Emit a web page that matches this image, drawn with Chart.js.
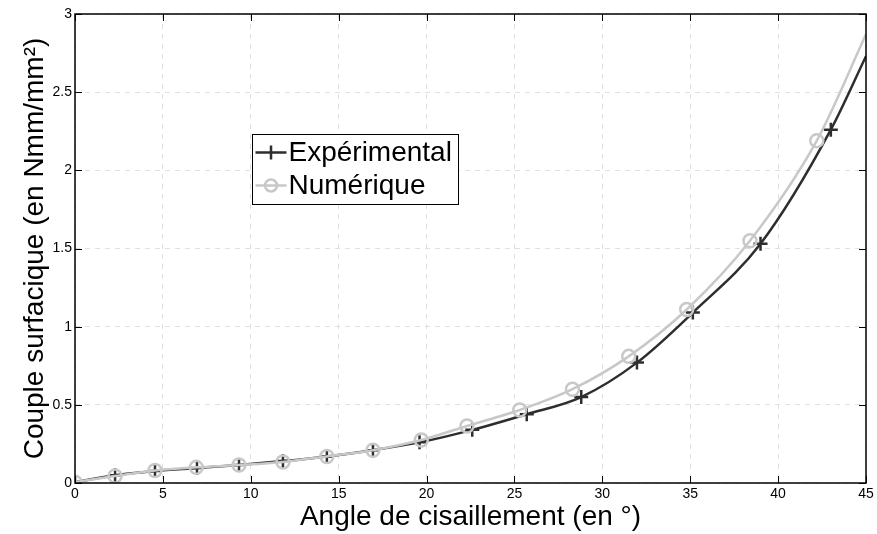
<!DOCTYPE html>
<html>
<head>
<meta charset="utf-8">
<script src="https://cdn.jsdelivr.net/npm/chart.js@4.4.1/dist/chart.umd.min.js"></script>
<style>
  html, body { margin: 0; padding: 0; background: #fff; }
  #wrap { width: 877px; height: 534px; }
</style>
</head>
<body>
<div id="wrap"><canvas id="couple-chart" width="877" height="534"></canvas></div>
<script>
// measured points (angle in degrees, couple in Nmm/mm2)
var expAngle = [0, 2.28, 4.55, 6.94, 9.33, 11.83, 14.33, 16.95, 19.6, 22.6, 25.7, 28.8, 31.97, 35.15, 39.0, 43.0];
var expCouple = [0.005, 0.05, 0.077, 0.096, 0.115, 0.14, 0.17, 0.21, 0.26, 0.34, 0.44, 0.55, 0.77, 1.09, 1.53, 2.26];
var expCurveAngle = [0, 2.28, 4.55, 6.94, 9.33, 11.83, 14.33, 16.95, 19.6, 22.6, 25.7, 28.8, 31.97, 35.15, 39.0, 43.0, 45];
var expCurveCouple = [0.005, 0.05, 0.077, 0.096, 0.115, 0.14, 0.17, 0.21, 0.26, 0.34, 0.44, 0.55, 0.77, 1.09, 1.53, 2.26, 2.73];

var numAngle = [0, 2.28, 4.55, 6.9, 9.33, 11.83, 14.33, 16.95, 19.7, 22.3, 25.3, 28.3, 31.5, 34.8, 38.4, 42.2];
var numCouple = [0.005, 0.045, 0.08, 0.1, 0.115, 0.135, 0.17, 0.21, 0.275, 0.365, 0.467, 0.6, 0.81, 1.11, 1.55, 2.19];
var numCurveAngle = [0, 2.28, 4.55, 6.9, 9.33, 11.83, 14.33, 16.95, 19.7, 22.3, 25.3, 28.3, 31.5, 34.8, 38.4, 42.2, 45];
var numCurveCouple = [0.005, 0.045, 0.08, 0.1, 0.115, 0.135, 0.17, 0.21, 0.275, 0.365, 0.467, 0.6, 0.81, 1.11, 1.55, 2.19, 2.87];

var xTicks = [0, 5, 10, 15, 20, 25, 30, 35, 40, 45];
var yTicks = [0, 0.5, 1, 1.5, 2, 2.5, 3];

var seriesNames = ['Expérimental', 'Numérique'];
var expColor = '#2e2e2e';
var numColor = '#c8c8c8';
var fontFamily = '"Liberation Sans", Arial, sans-serif';

function toPoints(xs, ys) {
    return xs.map(function (x, i) { return { x: x, y: ys[i] }; });
}

// box, inner ticks and legend in the style of a matlab figure
var framePlugin = {
    id: 'frame',
    afterDraw: function (chart) {
        var c = chart.ctx;
        var a = chart.chartArea;
        var xs = chart.scales.x, ys = chart.scales.y;
        c.save();
        c.strokeStyle = '#000';
        c.lineWidth = 1.5;
        c.strokeRect(a.left, a.top, a.right - a.left, a.bottom - a.top);
        c.lineWidth = 1;
        var len = 7;
        xTicks.forEach(function (v) {
            var px = Math.round(xs.getPixelForValue(v)) + 0.5;
            c.beginPath();
            c.moveTo(px, a.bottom); c.lineTo(px, a.bottom - len);
            c.moveTo(px, a.top); c.lineTo(px, a.top + len);
            c.stroke();
        });
        yTicks.forEach(function (v) {
            var py = Math.round(ys.getPixelForValue(v)) + 0.5;
            c.beginPath();
            c.moveTo(a.left, py); c.lineTo(a.left + len, py);
            c.moveTo(a.right, py); c.lineTo(a.right - len, py);
            c.stroke();
        });

        // legend
        var bx = 252.5, by = 134.5, bw = 206, bh = 70;
        c.fillStyle = '#fff';
        c.fillRect(bx, by, bw, bh);
        c.strokeStyle = '#000';
        c.lineWidth = 1;
        c.strokeRect(bx, by, bw, bh);
        c.font = '28px ' + fontFamily;
        c.textBaseline = 'middle';
        c.fillStyle = '#000';
        var rows = [by + 18, by + 51];
        // experimental: line with a plus
        c.strokeStyle = expColor;
        c.lineWidth = 2.5;
        c.beginPath();
        c.moveTo(bx + 3, rows[0]); c.lineTo(bx + 34, rows[0]);
        c.moveTo(bx + 18.5, rows[0] - 7); c.lineTo(bx + 18.5, rows[0] + 7);
        c.stroke();
        c.fillText(seriesNames[0], bx + 36, rows[0] + 1);
        // numeric: line with a circle
        c.strokeStyle = numColor;
        c.beginPath();
        c.moveTo(bx + 3, rows[1]); c.lineTo(bx + 34, rows[1]);
        c.stroke();
        c.beginPath();
        c.arc(bx + 18.5, rows[1], 6, 0, Math.PI * 2);
        c.stroke();
        c.fillText(seriesNames[1], bx + 36, rows[1] + 1);
        c.restore();
    }
};

var ctx = document.getElementById('couple-chart').getContext('2d');
var chart = new Chart(ctx, {
    type: 'scatter',
    data: {
        datasets: [{
            label: seriesNames[1],
            data: toPoints(numAngle, numCouple),
            showLine: false,
            pointStyle: 'circle',
            pointRadius: 6.5,
            pointBorderWidth: 2.5,
            pointBorderColor: numColor,
            pointBackgroundColor: 'rgba(0,0,0,0)',
            order: 0
        }, {
            label: seriesNames[1],
            data: toPoints(numCurveAngle, numCurveCouple),
            showLine: true,
            borderColor: numColor,
            borderWidth: 2.5,
            pointRadius: 0,
            cubicInterpolationMode: 'monotone',
            order: 1
        }, {
            label: seriesNames[0],
            data: toPoints(expAngle, expCouple),
            showLine: false,
            pointStyle: 'cross',
            pointRadius: 7,
            pointBorderWidth: 2.5,
            pointBorderColor: expColor,
            order: 2
        }, {
            label: seriesNames[0],
            data: toPoints(expCurveAngle, expCurveCouple),
            showLine: true,
            borderColor: expColor,
            borderWidth: 2.5,
            pointRadius: 0,
            cubicInterpolationMode: 'monotone',
            order: 3
        }]
    },
    options: {
        responsive: false,
        animation: false,
        layout: { padding: { top: 14, right: 11, bottom: 0, left: 0 } },
        plugins: {
            legend: { display: false },
            tooltip: { enabled: false }
        },
        scales: {
            x: {
                type: 'linear',
                min: 0,
                max: 45,
                afterBuildTicks: function (s) { s.ticks = xTicks.map(function (v) { return { value: v }; }); },
                afterFit: function (s) { s.height = 51; },
                grid: { color: '#e0e0e0', drawTicks: false },
                border: { display: false, dash: [5, 5] },
                ticks: {
                    color: '#000',
                    padding: 3,
                    maxRotation: 0,
                    callback: function (v) { return String(v); },
                    font: { family: fontFamily, size: 14 }
                },
                title: {
                    display: true,
                    text: 'Angle de cisaillement (en °)',
                    color: '#000',
                    padding: { top: 0, bottom: 0 },
                    font: { family: fontFamily, size: 28 }
                }
            },
            y: {
                type: 'linear',
                min: 0,
                max: 3,
                afterBuildTicks: function (s) { s.ticks = yTicks.map(function (v) { return { value: v }; }); },
                afterFit: function (s) { s.width = 75; },
                grid: { color: '#e0e0e0', drawTicks: false },
                border: { display: false, dash: [5, 5] },
                ticks: {
                    color: '#000',
                    padding: 3,
                    callback: function (v) { return String(v); },
                    font: { family: fontFamily, size: 14 }
                },
                title: {
                    display: true,
                    text: 'Couple surfacique (en Nmm/mm²)',
                    color: '#000',
                    padding: { top: 18, bottom: 0 },
                    font: { family: fontFamily, size: 28 }
                }
            }
        }
    },
    plugins: [framePlugin]
});
</script>
</body>
</html>
